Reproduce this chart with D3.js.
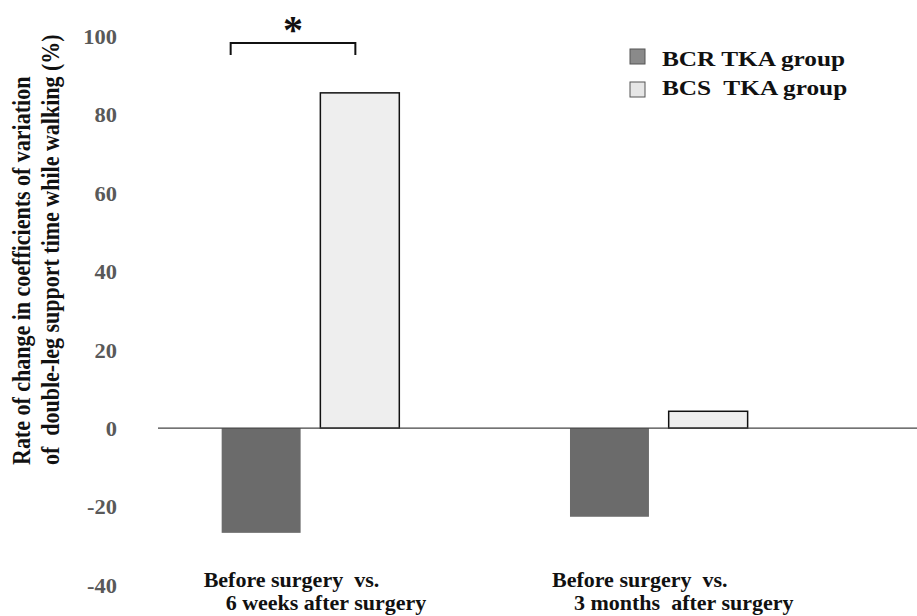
<!DOCTYPE html>
<html>
<head>
<meta charset="utf-8">
<script src="https://cdn.jsdelivr.net/npm/d3@7"></script>
<style>
  html, body { margin: 0; padding: 0; background: #fff; }
  svg { display: block; }
  text { font-family: "Liberation Serif", "Times New Roman", serif; font-weight: bold; white-space: pre; }
</style>
</head>
<body>
<svg id="chart" width="917" height="616"></svg>
<script>
const categories = [
  ["Before surgery  vs.", "6 weeks after surgery"],
  ["Before surgery  vs.", "3 months  after surgery"]
];
const seriesNames = ["BCR TKA group", "BCS  TKA group"];
const bcrValues = [-26.7, -22.6];
const bcsValues = [85.5, 4.3];
const yTicks = [-40, -20, 0, 20, 40, 60, 80, 100];
const yTitleLines = ["Rate of change in coefficients of variation", "of  double-leg support time while walking (%)"];
const seriesColors = ["#6b6b6b", "#eeeeee"];

const svg = d3.select("#chart");
const catKeys = categories.map((c, i) => "c" + i);

const y = d3.scaleLinear().domain([-40, 100]).range([585, 36]);
const x0 = d3.scaleBand().domain(catKeys).range([47.5, 921.8]).paddingInner(0.49).paddingOuter(0.5);
const x1 = d3.scaleBand().domain(seriesNames).range([0, x0.bandwidth()]).paddingInner(0.2);

// y tick labels (no axis line)
const yAxis = d3.axisLeft(y).tickValues(yTicks).tickSize(0).tickPadding(0).tickFormat(d => String(d));
const gy = svg.append("g").attr("transform", "translate(117,0)").call(yAxis);
gy.select(".domain").remove();
gy.selectAll("text")
  .attr("font-family", "Liberation Serif, Times New Roman, serif")
  .attr("font-weight", "bold")
  .attr("font-size", 21)
  .attr("fill", "#595959")
  .attr("dy", "0.35em")
  .attr("transform", "scale(1.07,1)");

// bars
const rows = catKeys.map((k, i) => ({ key: k, values: [bcrValues[i], bcsValues[i]] }));
const groups = svg.append("g").selectAll("g").data(rows).join("g")
  .attr("transform", d => `translate(${x0(d.key)},0)`);
groups.selectAll("rect").data(d => d.values.map((v, j) => ({ s: seriesNames[j], v, j })))
  .join("rect")
  .attr("x", d => x1(d.s))
  .attr("width", x1.bandwidth())
  .attr("y", d => y(Math.max(0, d.v)))
  .attr("height", d => Math.abs(y(d.v) - y(0)))
  .attr("fill", d => seriesColors[d.j])
  .attr("stroke", d => d.j === 1 ? "#111" : "none")
  .attr("stroke-width", 1.5);

// zero line
svg.append("line")
  .attr("x1", 158).attr("x2", 917)
  .attr("y1", y(0)).attr("y2", y(0))
  .attr("stroke", "#444").attr("stroke-width", 1.3);

// category labels
const catG = svg.append("g");
categories.forEach((lines, i) => {
  const cx = x0(catKeys[i]);
  catG.append("text").attr("x", cx - 18).attr("y", 587).attr("font-size", 22).attr("fill", "#111").text(lines[0]);
  catG.append("text").attr("x", cx + 4).attr("y", 610).attr("font-size", 22).attr("fill", "#111").text(lines[1]);
});

// y title
const tg = svg.append("g");
tg.append("text").attr("transform", "translate(30,465) scale(1.12,1) rotate(-90)").attr("font-size", 22).attr("fill", "#111").text(yTitleLines[0]);
tg.append("text").attr("transform", "translate(59,465) scale(1.12,1) rotate(-90)").attr("font-size", 22).attr("fill", "#111").text(yTitleLines[1]);

// significance bracket
const bx1 = x0(catKeys[0]) + x1(seriesNames[0]) + 9;
const bx2 = x0(catKeys[0]) + x1(seriesNames[1]) + 35;
svg.append("path")
  .attr("d", `M${bx1},55 V43 H${bx2} V55`)
  .attr("fill", "none").attr("stroke", "#111").attr("stroke-width", 2);
svg.append("text").attr("x", (bx1 + bx2) / 2).attr("y", 43).attr("text-anchor", "middle")
  .attr("font-size", 40).attr("fill", "#111").text("*");

// legend
const lg = svg.append("g");
seriesNames.forEach((s, i) => {
  lg.append("rect").attr("x", 630).attr("y", 49 + i * 33).attr("width", 15).attr("height", 15)
    .attr("fill", i === 0 ? "#8a8a8a" : "#e6e6e6").attr("stroke", "#555").attr("stroke-width", 1);
  lg.append("text").attr("transform", `translate(662,${66 + i * 29}) scale(1.15,1)`)
    .attr("font-size", 22).attr("fill", "#111").text(s);
});
</script>
</body>
</html>
